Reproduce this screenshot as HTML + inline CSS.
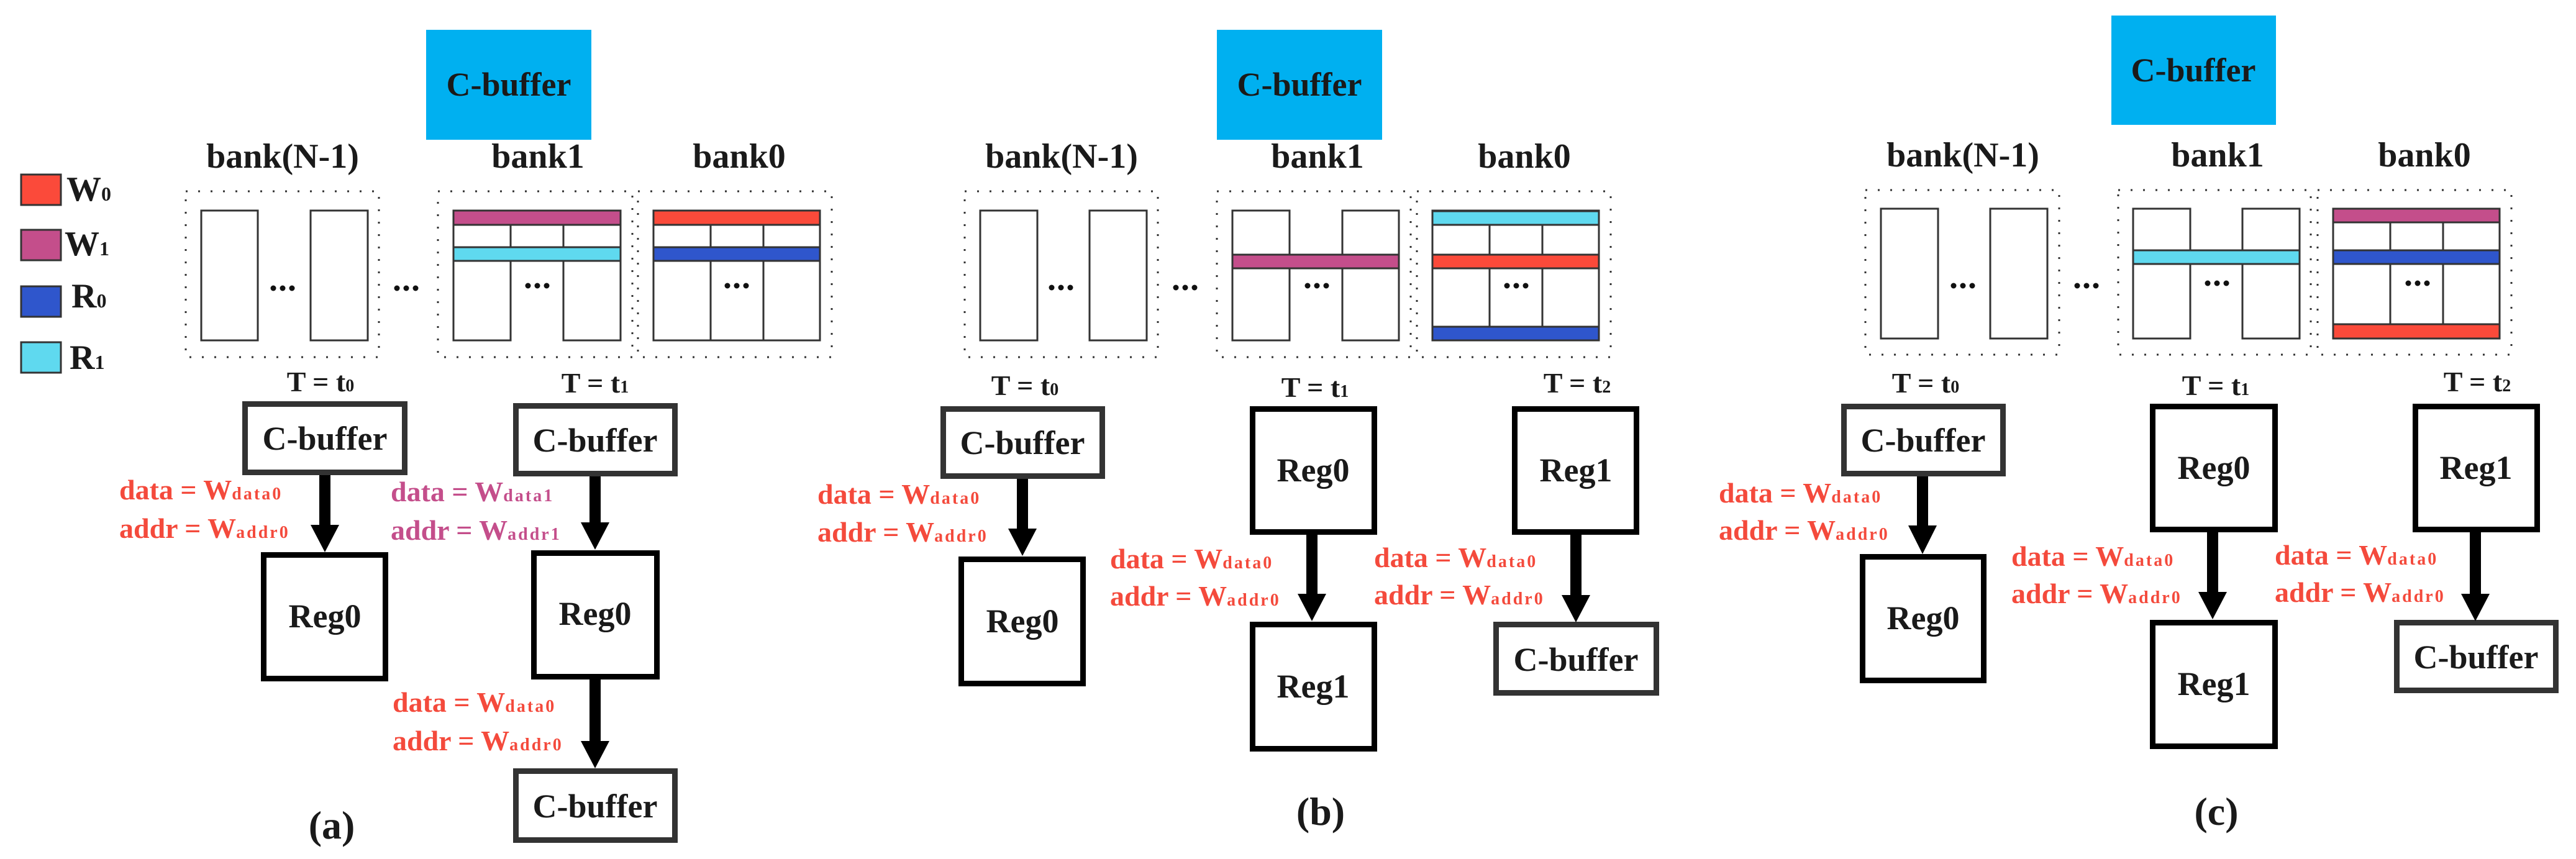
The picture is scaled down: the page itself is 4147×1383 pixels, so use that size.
<!DOCTYPE html>
<html><head><meta charset="utf-8"><style>
html,body{margin:0;padding:0;background:#fff;}
svg{display:block;}
svg text{font-family:'Liberation Serif','Times New Roman',Times,serif !important;font-weight:700;}
.bl{fill:#1a1a1a;}
.lab{font-size:46px;}
.r{fill:#f44a3c;}
.m{fill:#c44e8b;}
.dot{fill:none;stroke:#333;stroke-width:3;stroke-dasharray:3 17;}
.c{fill:#fff;stroke:#333;stroke-width:3;}
.cb{fill:#fff;stroke:#333;stroke-width:9;}
.rg{fill:#fff;stroke:#000;stroke-width:9;}
</style></head><body>
<svg width="4147" height="1383" viewBox="0 0 4147 1383" xmlns="http://www.w3.org/2000/svg" font-family="Liberation Serif, serif" font-weight="bold">
<defs>
<g id="dots"><circle cx="-15" cy="0" r="4.5" fill="#111"/><circle cx="0" cy="0" r="4.5" fill="#111"/><circle cx="15" cy="0" r="4.5" fill="#111"/></g>
</defs>

<!-- Legend -->
<rect x="34" y="281" width="64" height="49" fill="#fb4a3a" stroke="#333" stroke-width="3"/>
<rect x="34" y="370" width="64" height="49" fill="#c44e8b" stroke="#333" stroke-width="3"/>
<rect x="34" y="461" width="64" height="49" fill="#2f56cc" stroke="#333" stroke-width="3"/>
<rect x="34" y="551" width="64" height="49" fill="#5fd9ef" stroke="#333" stroke-width="3"/>
<text x="107" y="323" font-size="56" class="bl">W<tspan font-size="32">0</tspan></text>
<text x="104" y="411" font-size="56" class="bl">W<tspan font-size="32">1</tspan></text>
<text x="115" y="495" font-size="56" class="bl">R<tspan font-size="32">0</tspan></text>
<text x="112" y="594" font-size="56" class="bl">R<tspan font-size="32">1</tspan></text>

<!-- ===== Panel (a) ===== -->
<rect x="686" y="48" width="266" height="177" fill="#00b0f0"/>
<text x="819" y="154" font-size="54" text-anchor="middle" class="bl">C-buffer</text>
<text x="455" y="270" font-size="56" text-anchor="middle" class="bl">bank(N-1)</text>
<text x="866" y="270" font-size="56" text-anchor="middle" class="bl">bank1</text>
<text x="1190" y="270" font-size="56" text-anchor="middle" class="bl">bank0</text>
<rect x="299" y="308" width="311" height="267" class="dot"/>
<rect x="705" y="308" width="313" height="267" class="dot"/>
<rect x="1027" y="308" width="312" height="267" class="dot"/>
<rect x="324" y="339" width="91" height="209" class="c"/>
<rect x="500" y="339" width="92" height="209" class="c"/>
<use href="#dots" x="455" y="464"/>
<use href="#dots" x="654" y="464"/>
<rect x="730" y="339" width="92" height="209" class="c"/>
<rect x="907" y="339" width="92" height="209" class="c"/>
<rect x="822" y="361" width="85" height="37" class="c"/>
<rect x="730" y="339" width="269" height="23" fill="#c44e8b" stroke="#333" stroke-width="3"/>
<rect x="730" y="398" width="269" height="22" fill="#5fd9ef" stroke="#333" stroke-width="3"/>
<use href="#dots" x="865" y="460"/>
<rect x="1052" y="339" width="92" height="209" class="c"/>
<rect x="1144" y="339" width="85" height="209" class="c"/>
<rect x="1229" y="339" width="91" height="209" class="c"/>
<rect x="1052" y="339" width="268" height="23" fill="#fb4a3a" stroke="#333" stroke-width="3"/>
<rect x="1052" y="398" width="268" height="22" fill="#2f56cc" stroke="#333" stroke-width="3"/>
<use href="#dots" x="1186" y="460"/>
<text x="516" y="630" font-size="46" text-anchor="middle" class="bl">T = t<tspan font-size="28">0</tspan></text>
<text x="958" y="632" font-size="46" text-anchor="middle" class="bl">T = t<tspan font-size="28">1</tspan></text>
<rect x="394.5" y="650.5" width="257" height="110" class="cb"/>
<text x="523" y="724" font-size="54" text-anchor="middle" class="bl">C-buffer</text>
<rect x="424.5" y="893.5" width="196" height="199" class="rg"/>
<text x="523" y="1010" font-size="54" text-anchor="middle" class="bl">Reg0</text>
<rect x="830.5" y="653.5" width="256" height="109" class="cb"/>
<text x="958" y="727" font-size="54" text-anchor="middle" class="bl">C-buffer</text>
<rect x="859.5" y="890.5" width="198" height="199" class="rg"/>
<text x="958" y="1006" font-size="54" text-anchor="middle" class="bl">Reg0</text>
<rect x="830.5" y="1241.5" width="256" height="111" class="cb"/>
<text x="958" y="1316" font-size="54" text-anchor="middle" class="bl">C-buffer</text>
<rect x="514" y="765" width="18" height="82" fill="#000"/><polygon points="500,845 546,845 523,889" fill="#000"/>
<rect x="949" y="767" width="18" height="76" fill="#000"/><polygon points="935,841 981,841 958,885" fill="#000"/>
<rect x="949" y="1094" width="18" height="101" fill="#000"/><polygon points="935,1193 981,1193 958,1237" fill="#000"/>
<text x="192" y="804" class="lab r">data = W<tspan font-size="28" letter-spacing="3">data0</tspan></text>
<text x="192" y="866" class="lab r">addr = W<tspan font-size="28" letter-spacing="3">addr0</tspan></text>
<text x="629" y="807" class="lab m">data = W<tspan font-size="28" letter-spacing="3">data1</tspan></text>
<text x="629" y="869" class="lab m">addr = W<tspan font-size="28" letter-spacing="3">addr1</tspan></text>
<text x="632" y="1146" class="lab r">data = W<tspan font-size="28" letter-spacing="3">data0</tspan></text>
<text x="632" y="1208" class="lab r">addr = W<tspan font-size="28" letter-spacing="3">addr0</tspan></text>
<text x="534" y="1350" font-size="64" text-anchor="middle" class="bl">(a)</text>

<!-- ===== Panel (b) ===== -->
<rect x="1959" y="48" width="266" height="177" fill="#00b0f0"/>
<text x="2092" y="154" font-size="54" text-anchor="middle" class="bl">C-buffer</text>
<text x="1709" y="270" font-size="56" text-anchor="middle" class="bl">bank(N-1)</text>
<text x="2121" y="270" font-size="56" text-anchor="middle" class="bl">bank1</text>
<text x="2454" y="270" font-size="56" text-anchor="middle" class="bl">bank0</text>
<rect x="1553" y="308" width="311" height="267" class="dot"/>
<rect x="1959" y="308" width="312" height="267" class="dot"/>
<rect x="2281" y="308" width="312" height="267" class="dot"/>
<rect x="1578" y="339" width="92" height="209" class="c"/>
<rect x="1754" y="339" width="92" height="209" class="c"/>
<use href="#dots" x="1708" y="463"/>
<use href="#dots" x="1908" y="463"/>
<rect x="1984" y="339" width="92" height="209" class="c"/>
<rect x="2161" y="339" width="91" height="209" class="c"/>
<rect x="1984" y="410" width="268" height="22" fill="#c44e8b" stroke="#333" stroke-width="3"/>
<use href="#dots" x="2120" y="460"/>
<rect x="2306" y="339" width="92" height="209" class="c"/>
<rect x="2398" y="339" width="85" height="209" class="c"/>
<rect x="2483" y="339" width="91" height="209" class="c"/>
<rect x="2306" y="340" width="268" height="22" fill="#5fd9ef" stroke="#333" stroke-width="3"/>
<rect x="2306" y="410" width="268" height="22" fill="#fb4a3a" stroke="#333" stroke-width="3"/>
<rect x="2306" y="526" width="268" height="22" fill="#2f56cc" stroke="#333" stroke-width="3"/>
<use href="#dots" x="2441" y="460"/>
<text x="1650" y="636" font-size="46" text-anchor="middle" class="bl">T = t<tspan font-size="28">0</tspan></text>
<text x="2117" y="639" font-size="46" text-anchor="middle" class="bl">T = t<tspan font-size="28">1</tspan></text>
<text x="2539" y="632" font-size="46" text-anchor="middle" class="bl">T = t<tspan font-size="28">2</tspan></text>
<rect x="1518.5" y="658.5" width="256" height="108" class="cb"/>
<text x="1646" y="731" font-size="54" text-anchor="middle" class="bl">C-buffer</text>
<rect x="1547.5" y="900.5" width="196" height="200" class="rg"/>
<text x="1646" y="1018" font-size="54" text-anchor="middle" class="bl">Reg0</text>
<rect x="2016.5" y="658.5" width="196" height="198" class="rg"/>
<text x="2114" y="775" font-size="54" text-anchor="middle" class="bl">Reg0</text>
<rect x="2016.5" y="1005.5" width="196" height="200" class="rg"/>
<text x="2114" y="1123" font-size="54" text-anchor="middle" class="bl">Reg1</text>
<rect x="2438.5" y="658.5" width="196" height="198" class="rg"/>
<text x="2537" y="775" font-size="54" text-anchor="middle" class="bl">Reg1</text>
<rect x="2408.5" y="1005.5" width="258" height="110" class="cb"/>
<text x="2537" y="1080" font-size="54" text-anchor="middle" class="bl">C-buffer</text>
<rect x="1637" y="771" width="18" height="82" fill="#000"/><polygon points="1623,851 1669,851 1646,895" fill="#000"/>
<rect x="2103" y="861" width="18" height="97" fill="#000"/><polygon points="2089,956 2135,956 2112,1000" fill="#000"/>
<rect x="2528" y="861" width="18" height="99" fill="#000"/><polygon points="2514,958 2560,958 2537,1002" fill="#000"/>
<text x="1316" y="811" class="lab r">data = W<tspan font-size="28" letter-spacing="3">data0</tspan></text>
<text x="1316" y="872" class="lab r">addr = W<tspan font-size="28" letter-spacing="3">addr0</tspan></text>
<text x="1787" y="915" class="lab r">data = W<tspan font-size="28" letter-spacing="3">data0</tspan></text>
<text x="1787" y="975" class="lab r">addr = W<tspan font-size="28" letter-spacing="3">addr0</tspan></text>
<text x="2212" y="913" class="lab r">data = W<tspan font-size="28" letter-spacing="3">data0</tspan></text>
<text x="2212" y="973" class="lab r">addr = W<tspan font-size="28" letter-spacing="3">addr0</tspan></text>
<text x="2126" y="1328" font-size="64" text-anchor="middle" class="bl">(b)</text>

<!-- ===== Panel (c) ===== -->
<rect x="3399" y="25" width="265" height="176" fill="#00b0f0"/>
<text x="3531" y="131" font-size="54" text-anchor="middle" class="bl">C-buffer</text>
<text x="3160" y="268" font-size="56" text-anchor="middle" class="bl">bank(N-1)</text>
<text x="3570" y="268" font-size="56" text-anchor="middle" class="bl">bank1</text>
<text x="3903" y="268" font-size="56" text-anchor="middle" class="bl">bank0</text>
<rect x="3003" y="306" width="312" height="265" class="dot"/>
<rect x="3410" y="306" width="310" height="265" class="dot"/>
<rect x="3731" y="306" width="312" height="265" class="dot"/>
<rect x="3028" y="336" width="92" height="209" class="c"/>
<rect x="3204" y="336" width="92" height="209" class="c"/>
<use href="#dots" x="3160" y="460"/>
<use href="#dots" x="3359" y="460"/>
<rect x="3434" y="336" width="92" height="209" class="c"/>
<rect x="3610" y="336" width="92" height="209" class="c"/>
<rect x="3434" y="403" width="268" height="22" fill="#5fd9ef" stroke="#333" stroke-width="3"/>
<use href="#dots" x="3569" y="456"/>
<rect x="3756" y="336" width="92" height="209" class="c"/>
<rect x="3848" y="336" width="85" height="209" class="c"/>
<rect x="3933" y="336" width="91" height="209" class="c"/>
<rect x="3756" y="336" width="268" height="22" fill="#c44e8b" stroke="#333" stroke-width="3"/>
<rect x="3756" y="403" width="268" height="22" fill="#2f56cc" stroke="#333" stroke-width="3"/>
<rect x="3756" y="522" width="268" height="23" fill="#fb4a3a" stroke="#333" stroke-width="3"/>
<use href="#dots" x="3892" y="456"/>
<text x="3100" y="632" font-size="46" text-anchor="middle" class="bl">T = t<tspan font-size="28">0</tspan></text>
<text x="3567" y="636" font-size="46" text-anchor="middle" class="bl">T = t<tspan font-size="28">1</tspan></text>
<text x="3988" y="630" font-size="46" text-anchor="middle" class="bl">T = t<tspan font-size="28">2</tspan></text>
<rect x="2968.5" y="654.5" width="256" height="108" class="cb"/>
<text x="3096" y="727" font-size="54" text-anchor="middle" class="bl">C-buffer</text>
<rect x="2998.5" y="896.5" width="195" height="199" class="rg"/>
<text x="3096" y="1013" font-size="54" text-anchor="middle" class="bl">Reg0</text>
<rect x="3465.5" y="654.5" width="197" height="198" class="rg"/>
<text x="3564" y="771" font-size="54" text-anchor="middle" class="bl">Reg0</text>
<rect x="3465.5" y="1002.5" width="197" height="199" class="rg"/>
<text x="3564" y="1119" font-size="54" text-anchor="middle" class="bl">Reg1</text>
<rect x="3888.5" y="654.5" width="196" height="198" class="rg"/>
<text x="3986" y="771" font-size="54" text-anchor="middle" class="bl">Reg1</text>
<rect x="3858.5" y="1002.5" width="256" height="109" class="cb"/>
<text x="3986" y="1076" font-size="54" text-anchor="middle" class="bl">C-buffer</text>
<rect x="3086" y="767" width="18" height="81" fill="#000"/><polygon points="3072,846 3118,846 3095,892" fill="#000"/>
<rect x="3553" y="857" width="18" height="97" fill="#000"/><polygon points="3539,953 3585,953 3562,997" fill="#000"/>
<rect x="3976" y="857" width="18" height="100" fill="#000"/><polygon points="3962,956 4008,956 3985,1000" fill="#000"/>
<text x="2767" y="809" class="lab r">data = W<tspan font-size="28" letter-spacing="3">data0</tspan></text>
<text x="2767" y="869" class="lab r">addr = W<tspan font-size="28" letter-spacing="3">addr0</tspan></text>
<text x="3238" y="911" class="lab r">data = W<tspan font-size="28" letter-spacing="3">data0</tspan></text>
<text x="3238" y="971" class="lab r">addr = W<tspan font-size="28" letter-spacing="3">addr0</tspan></text>
<text x="3662" y="909" class="lab r">data = W<tspan font-size="28" letter-spacing="3">data0</tspan></text>
<text x="3662" y="969" class="lab r">addr = W<tspan font-size="28" letter-spacing="3">addr0</tspan></text>
<text x="3568" y="1328" font-size="64" text-anchor="middle" class="bl">(c)</text>
</svg>
</body></html>
